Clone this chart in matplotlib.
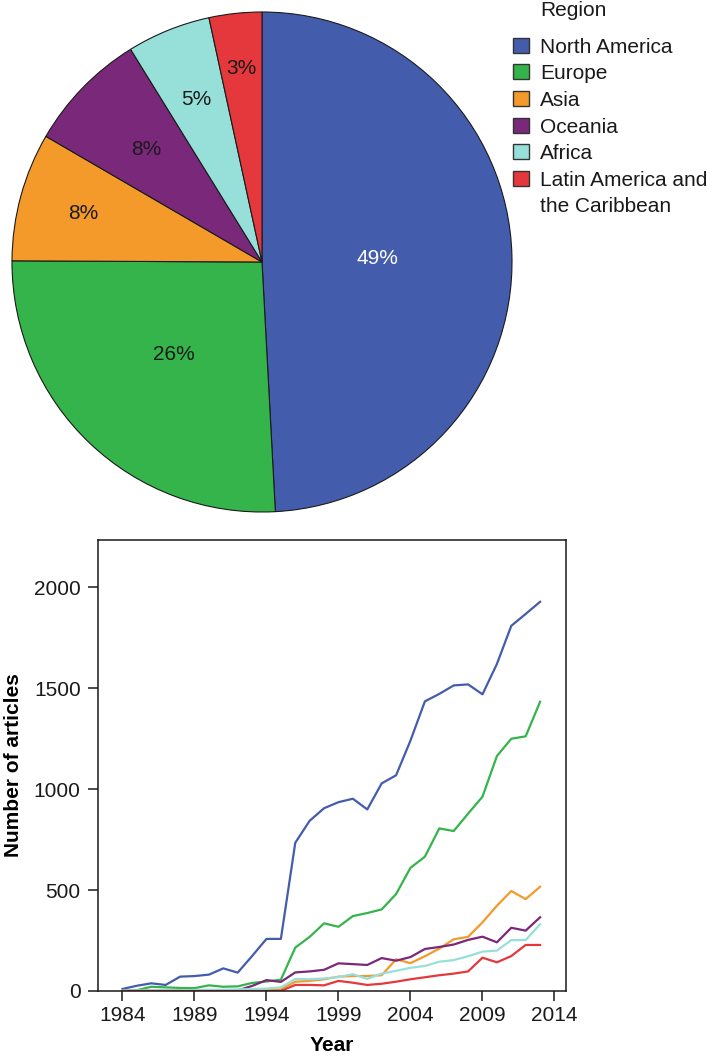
import numpy as np
import matplotlib
matplotlib.use("Agg")
import matplotlib.pyplot as plt
from matplotlib.patches import Rectangle

plt.rcParams['font.family'] = ['Liberation Sans', 'DejaVu Sans']

# regions, shared by both panels
regions = ["North America", "Europe", "Asia", "Oceania", "Africa",
           "Latin America and\nthe Caribbean"]
region_colors = ["#435DAC", "#34B44B", "#F39A2B", "#7A287A", "#97E0DA", "#E5383C"]

# share of all articles per region (%)
shares = [49.1, 25.9, 8.3, 7.8, 5.4, 3.4]

# articles per year and region
years = np.arange(1984, 2014)
north_america = [10, 26, 38, 30, 71, 74, 81, 112, 91, 173, 258, 258, 734, 843, 905,
                 935, 952, 899, 1028, 1068, 1240, 1434, 1471, 1513, 1518, 1469, 1619,
                 1808, 1867, 1927]
europe = [0, 4, 21, 18, 15, 14, 28, 21, 23, 40, 47, 56, 215, 268, 335,
          318, 371, 386, 404, 480, 610, 665, 805, 792, 878, 962, 1163,
          1249, 1261, 1432]
asia = [0, 0, 0, 0, 0, 0, 0, 0, 0, 0, 2, 8, 46, 50, 58,
        71, 74, 74, 78, 157, 138, 172, 210, 256, 268, 340, 422,
        495, 455, 516]
oceania = [0, 0, 0, 0, 0, 0, 0, 0, 3, 25, 54, 45, 92, 97, 105,
           137, 133, 129, 163, 150, 168, 208, 218, 230, 253, 269, 241,
           313, 299, 365]
africa = [2, 3, 3, 4, 4, 5, 6, 6, 8, 10, 12, 18, 60, 58, 62,
          69, 83, 60, 86, 100, 115, 124, 145, 153, 172, 195, 200,
          252, 252, 330]
latin_america = [0, 0, 0, 0, 0, 0, 0, 0, 0, 0, 0, 0, 30, 30, 28,
                 50, 41, 30, 36, 46, 58, 68, 78, 86, 97, 165, 142,
                 173, 228, 228]
series = [north_america, europe, asia, oceania, africa, latin_america]

W, H = 715, 1057
fig = plt.figure(figsize=(W / 100, H / 100), dpi=100)


def fx(px):
    return px / W


def fy(py):
    return 1 - py / H


# ---- pie ----
ax_pie = fig.add_axes([fx(12), fy(512), 500 / W, 500 / H])
wedges, _ = ax_pie.pie(shares, colors=region_colors, startangle=90, counterclock=False,
                       radius=1, wedgeprops=dict(edgecolor="#1a1a1a", linewidth=0.8))
ax_pie.set_xlim(-1, 1)
ax_pie.set_ylim(-1, 1)
ax_pie.set_aspect("equal")
ax_pie.axis("off")

label_dist = [0.46, 0.51, 0.74, 0.645, 0.70, 0.78]
total = sum(shares)
for w, s, r, i in zip(wedges, shares, label_dist, range(len(shares))):
    mid = np.deg2rad((w.theta1 + w.theta2) / 2)
    ax_pie.text(r * np.cos(mid), r * np.sin(mid), f"{s / total * 100:.0f}%",
                ha="center", va="center", fontsize=15,
                color="white" if i == 0 else "#1a1a1a")

# legend drawn by hand so the two-line entry keeps its box on the first line
fig.text(fx(540), fy(16.5), "Region", fontsize=15, va="baseline", color="#1a1a1a")
for i, (name, c) in enumerate(zip(regions, region_colors)):
    yc = 45.3 + i * 26.6
    fig.patches.append(Rectangle((fx(513), fy(yc + 7.5)), 16 / W, 15 / H,
                                 transform=fig.transFigure, facecolor=c,
                                 edgecolor="#333333", linewidth=1))
    for j, line in enumerate(name.split("\n")):
        fig.text(fx(540), fy(yc + 7.5 + j * 26.6), line, fontsize=15,
                 va="baseline", color="#1a1a1a")

# ---- yearly counts ----
ax = fig.add_axes([fx(98), fy(991), 468 / W, 451 / H])
for vals, c in zip(series, region_colors):
    ax.plot(years, vals, color=c, lw=1.6)

ax.set_xlim(1982.3, 2014.8)
ax.set_ylim(0, 2233)
ax.set_xticks(np.arange(1984, 2015, 5))
ax.set_yticks(np.arange(0, 2001, 500))
for sp in ax.spines.values():
    sp.set_linewidth(1.1)
    sp.set_color("#1a1a1a")
ax.tick_params(direction="out", length=7.5, width=1.1, labelsize=15, colors="#1a1a1a")
ax.tick_params(axis="x", pad=3)
ax.tick_params(axis="y", pad=5)
ax.set_xlabel("Year", fontsize=15, fontweight="bold")
ax.set_ylabel("Number of articles", fontsize=15, fontweight="bold")
ax.xaxis.set_label_coords(0.5, -0.100)
ax.yaxis.set_label_coords(-0.160, 0.5)

fig.savefig("out.png", dpi=100)
